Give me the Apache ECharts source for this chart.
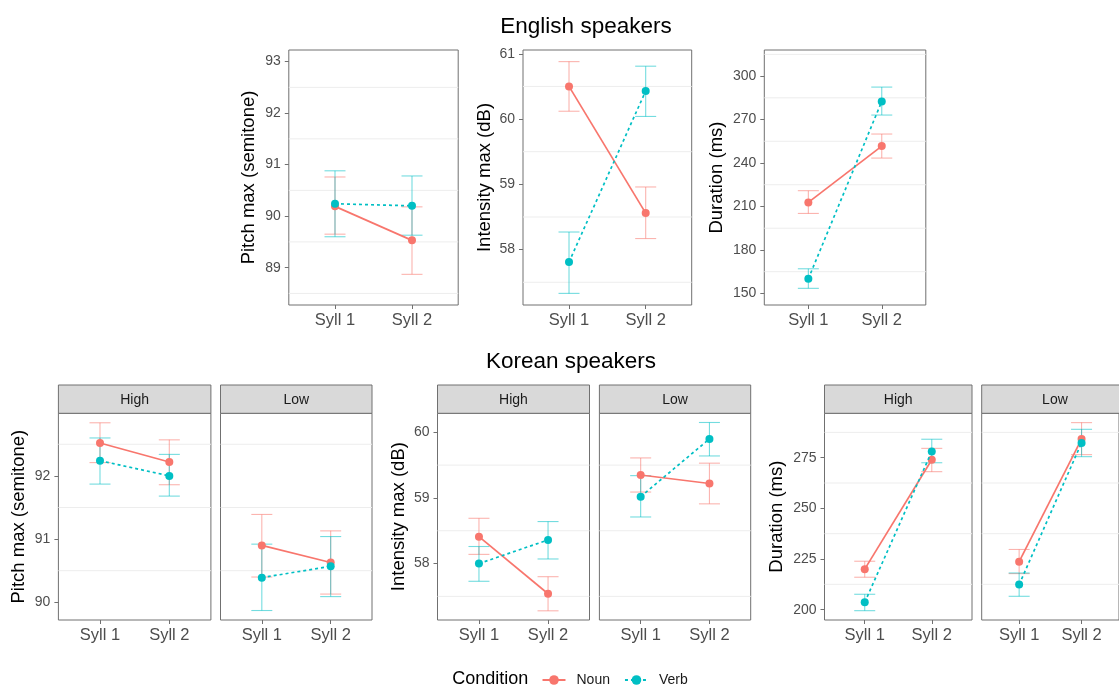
<!DOCTYPE html>
<html><head><meta charset="utf-8">
<script src="https://cdn.jsdelivr.net/npm/echarts@6/dist/echarts.min.js"></script>
<style>html,body{margin:0;padding:0;background:#fff}#c{width:1119px;height:686px}</style>
</head><body><div id="c"></div>
<script>
// ---------------- DATA ----------------
const syllables = ['Syll 1', 'Syll 2'];
const conditions = ['Noun', 'Verb'];

// English speakers: pitch max (semitone)
const engPitchNoun = [90.19, 89.53], engPitchNounLo = [89.65, 88.87], engPitchNounHi = [90.76, 90.18];
const engPitchVerb = [90.24, 90.20], engPitchVerbLo = [89.60, 89.63], engPitchVerbHi = [90.88, 90.78];
const engPitchTicks = [89, 90, 91, 92, 93];
const engPitchMinor = [88.5, 89.5, 90.5, 91.5, 92.5];

// English speakers: intensity max (dB)
const engIntNoun = [60.50, 58.56], engIntNounLo = [60.12, 58.17], engIntNounHi = [60.88, 58.96];
const engIntVerb = [57.81, 60.43], engIntVerbLo = [57.33, 60.04], engIntVerbHi = [58.27, 60.81];
const engIntTicks = [58, 59, 60, 61];
const engIntMinor = [57.5, 58.5, 59.5, 60.5];

// English speakers: duration (ms)
const engDurNoun = [212.8, 251.7], engDurNounLo = [205.2, 243.4], engDurNounHi = [220.9, 260.0];
const engDurVerb = [160.1, 282.5], engDurVerbLo = [153.5, 273.1], engDurVerbHi = [167.0, 292.4];
const engDurTicks = [150, 180, 210, 240, 270, 300];
const engDurMinor = [165, 195, 225, 255, 285, 315];

// Korean speakers: pitch max, High / Low
const korPitchHighNoun = [92.52, 92.22], korPitchHighNounLo = [92.21, 91.86], korPitchHighNounHi = [92.84, 92.57];
const korPitchHighVerb = [92.24, 92.00], korPitchHighVerbLo = [91.87, 91.68], korPitchHighVerbHi = [92.60, 92.34];
const korPitchLowNoun = [90.90, 90.63], korPitchLowNounLo = [90.40, 90.13], korPitchLowNounHi = [91.39, 91.13];
const korPitchLowVerb = [90.39, 90.57], korPitchLowVerbLo = [89.87, 90.09], korPitchLowVerbHi = [90.92, 91.04];
const korPitchTicks = [90, 91, 92];
const korPitchMinor = [90.5, 91.5, 92.5];

// Korean speakers: intensity max, High / Low
const korIntHighNoun = [58.41, 57.54], korIntHighNounLo = [58.14, 57.28], korIntHighNounHi = [58.69, 57.80];
const korIntHighVerb = [58.00, 58.36], korIntHighVerbLo = [57.73, 58.07], korIntHighVerbHi = [58.26, 58.64];
const korIntLowNoun = [59.35, 59.22], korIntLowNounLo = [59.09, 58.91], korIntLowNounHi = [59.61, 59.53];
const korIntLowVerb = [59.02, 59.90], korIntLowVerbLo = [58.71, 59.64], korIntLowVerbHi = [59.34, 60.15];
const korIntTicks = [58, 59, 60];
const korIntMinor = [57.5, 58.5, 59.5];

// Korean speakers: duration, High / Low
const korDurHighNoun = [220.0, 274.0], korDurHighNounLo = [216.0, 268.1], korDurHighNounHi = [223.9, 279.6];
const korDurHighVerb = [203.6, 278.1], korDurHighVerbLo = [199.5, 272.5], korDurHighVerbHi = [207.6, 284.1];
const korDurLowNoun = [223.7, 284.2], korDurLowNounLo = [217.8, 276.5], korDurLowNounHi = [229.7, 292.3];
const korDurLowVerb = [212.4, 282.3], korDurLowVerbLo = [206.6, 275.5], korDurLowVerbHi = [218.1, 289.0];
const korDurTicks = [200, 225, 250, 275];
const korDurMinor = [212.5, 237.5, 262.5, 287.5];

const facetLabels = ['High', 'Low'];
const titles = ['English speakers', 'Korean speakers'];
const yTitles = ['Pitch max (semitone)', 'Intensity max (dB)', 'Duration (ms)'];

// ---------------- LAYOUT / STYLE ----------------
const FONT = 'Liberation Sans, Arial, Helvetica, sans-serif';
const NOUN_COL = '#F8766D', VERB_COL = '#00BFC4';
const NOUN_ERR = 'rgba(248,118,109,0.55)', VERB_ERR = 'rgba(0,191,196,0.55)';
const BORDER = '#707070';
const GRIDLINE = '#EDEDED';
const TOP_Y = 50, TOP_H = 255;
const BOT_Y = 413.3, BOT_H = 206.7;
const STRIP_Y = 385, STRIP_H = 28.3;

const panels = [
  {left: 288.8, top: TOP_Y, width: 169.4, height: TOP_H, ymin: 88.275, ymax: 93.225, ticks: engPitchTicks, minor: engPitchMinor, yTitle: yTitles[0], nameGap: 30,
   n: [engPitchNoun, engPitchNounLo, engPitchNounHi], v: [engPitchVerb, engPitchVerbLo, engPitchVerbHi]},
  {left: 523, top: TOP_Y, width: 168.7, height: TOP_H, ymin: 57.152, ymax: 61.058, ticks: engIntTicks, minor: engIntMinor, yTitle: yTitles[1], nameGap: 29,
   n: [engIntNoun, engIntNounLo, engIntNounHi], v: [engIntVerb, engIntVerbLo, engIntVerbHi]},
  {left: 764.3, top: TOP_Y, width: 161.5, height: TOP_H, ymin: 142, ymax: 318, ticks: engDurTicks, minor: engDurMinor, yTitle: yTitles[2], nameGap: 38,
   n: [engDurNoun, engDurNounLo, engDurNounHi], v: [engDurVerb, engDurVerbLo, engDurVerbHi]},
  {left: 58.4, top: BOT_Y, width: 152.5, height: BOT_H, ymin: 89.72, ymax: 92.99, ticks: korPitchTicks, minor: korPitchMinor, yTitle: yTitles[0], nameGap: 30, strip: facetLabels[0],
   n: [korPitchHighNoun, korPitchHighNounLo, korPitchHighNounHi], v: [korPitchHighVerb, korPitchHighVerbLo, korPitchHighVerbHi]},
  {left: 220.5, top: BOT_Y, width: 151.5, height: BOT_H, ymin: 89.72, ymax: 92.99, ticks: korPitchTicks, minor: korPitchMinor, strip: facetLabels[1],
   n: [korPitchLowNoun, korPitchLowNounLo, korPitchLowNounHi], v: [korPitchLowVerb, korPitchLowVerbLo, korPitchLowVerbHi]},
  {left: 437.5, top: BOT_Y, width: 152, height: BOT_H, ymin: 57.14, ymax: 60.29, ticks: korIntTicks, minor: korIntMinor, yTitle: yTitles[1], nameGap: 29, strip: facetLabels[0],
   n: [korIntHighNoun, korIntHighNounLo, korIntHighNounHi], v: [korIntHighVerb, korIntHighVerbLo, korIntHighVerbHi]},
  {left: 599.4, top: BOT_Y, width: 151.3, height: BOT_H, ymin: 57.14, ymax: 60.29, ticks: korIntTicks, minor: korIntMinor, strip: facetLabels[1],
   n: [korIntLowNoun, korIntLowNounLo, korIntLowNounHi], v: [korIntLowVerb, korIntLowVerbLo, korIntLowVerbHi]},
  {left: 824.5, top: BOT_Y, width: 147.5, height: BOT_H, ymin: 194.9, ymax: 296.9, ticks: korDurTicks, minor: korDurMinor, yTitle: yTitles[2], nameGap: 38.5, strip: facetLabels[0],
   n: [korDurHighNoun, korDurHighNounLo, korDurHighNounHi], v: [korDurHighVerb, korDurHighVerbLo, korDurHighVerbHi]},
  {left: 981.7, top: BOT_Y, width: 146.5, height: BOT_H, ymin: 194.9, ymax: 296.9, ticks: korDurTicks, minor: korDurMinor, strip: facetLabels[1],
   n: [korDurLowNoun, korDurLowNounLo, korDurLowNounHi], v: [korDurLowVerb, korDurLowVerbLo, korDurLowVerbHi]}
];

const CAP_HALF = 10.5;
function errRender(color) {
  return function (params, api) {
    const x = api.value(0), lo = api.value(1), hi = api.value(2);
    const a = api.coord([x, lo]), b = api.coord([x, hi]);
    const st = {stroke: color, lineWidth: 1.1, fill: null};
    return {type: 'group', children: [
      {type: 'line', shape: {x1: a[0], y1: a[1], x2: b[0], y2: b[1]}, style: st},
      {type: 'line', shape: {x1: a[0] - CAP_HALF, y1: a[1], x2: a[0] + CAP_HALF, y2: a[1]}, style: st},
      {type: 'line', shape: {x1: b[0] - CAP_HALF, y1: b[1], x2: b[0] + CAP_HALF, y2: b[1]}, style: st}
    ]};
  };
}
function gridRender(params, api) {
  const cs = params.coordSys;
  const p = api.coord([1, api.value(0)]);
  return {type: 'line', shape: {x1: cs.x, y1: p[1], x2: cs.x + cs.width, y2: p[1]}, style: {stroke: GRIDLINE, lineWidth: 1}};
}

const grids = [], xAxes = [], yAxes = [], series = [], graphics = [];
panels.forEach((p, i) => {
  grids.push({left: p.left, top: p.top, width: p.width, height: p.height, show: true, borderColor: BORDER, borderWidth: 1, backgroundColor: '#fff', containLabel: false});
  xAxes.push({type: 'value', gridIndex: i, min: 0.4, max: 2.6,
    axisLine: {show: false}, splitLine: {show: false},
    axisTick: {show: true, length: 4, customValues: [1, 2], lineStyle: {color: BORDER}},
    axisLabel: {show: true, customValues: [1, 2], margin: 7, fontSize: 16.5, color: '#4D4D4D', fontFamily: FONT,
      formatter: v => syllables[Math.round(v) - 1]}});
  const hasY = !!p.yTitle;
  yAxes.push({type: 'value', gridIndex: i, min: p.ymin, max: p.ymax,
    axisLine: {show: false}, splitLine: {show: false},
    axisTick: {show: hasY, length: 4, customValues: p.ticks, lineStyle: {color: BORDER}},
    axisLabel: {show: hasY, customValues: p.ticks, margin: 8, fontSize: 14, color: '#4D4D4D', fontFamily: FONT},
    name: hasY ? p.yTitle : '', nameLocation: 'middle', nameGap: p.nameGap || 30,
    nameTextStyle: {fontSize: 18.5, color: '#000', fontFamily: FONT}});
  series.push({type: 'custom', xAxisIndex: i, yAxisIndex: i, z: 1, silent: true,
    data: p.minor.map(v => [v]), encode: {y: 0}, renderItem: gridRender});
  series.push({type: 'custom', name: 'Noun err', xAxisIndex: i, yAxisIndex: i, z: 2, silent: true,
    data: p.n[0].map((m, k) => [k + 1, p.n[1][k], p.n[2][k]]), encode: {x: 0, y: [1, 2]}, renderItem: errRender(NOUN_ERR)});
  series.push({type: 'custom', name: 'Verb err', xAxisIndex: i, yAxisIndex: i, z: 2, silent: true,
    data: p.v[0].map((m, k) => [k + 1, p.v[1][k], p.v[2][k]]), encode: {x: 0, y: [1, 2]}, renderItem: errRender(VERB_ERR)});
  series.push({type: 'line', name: conditions[0], xAxisIndex: i, yAxisIndex: i, z: 3,
    data: p.n[0].map((m, k) => [k + 1, m]), symbol: 'circle', symbolSize: 8, showSymbol: true,
    lineStyle: {color: NOUN_COL, width: 1.7}, itemStyle: {color: NOUN_COL}});
  series.push({type: 'line', name: conditions[1], xAxisIndex: i, yAxisIndex: i, z: 4,
    data: p.v[0].map((m, k) => [k + 1, m]), symbol: 'circle', symbolSize: 8, showSymbol: true,
    lineStyle: {color: VERB_COL, width: 1.7, type: [3, 3]}, itemStyle: {color: VERB_COL}});
  if (p.strip) {
    graphics.push({type: 'rect', shape: {x: p.left, y: STRIP_Y, width: p.width, height: STRIP_H},
      style: {fill: '#D9D9D9', stroke: BORDER, lineWidth: 1}, z: 10});
    graphics.push({type: 'text', x: p.left + p.width / 2, y: STRIP_Y + STRIP_H / 2 + 0.5,
      style: {text: p.strip, fontSize: 14, fill: '#1A1A1A', fontFamily: FONT, align: 'center', verticalAlign: 'middle'}, z: 11});
  }
});

graphics.push({type: 'text', x: 586, y: 27, style: {text: titles[0], fontSize: 22.5, fill: '#000', fontFamily: FONT, align: 'center', verticalAlign: 'middle'}});
graphics.push({type: 'text', x: 571, y: 362, style: {text: titles[1], fontSize: 22.5, fill: '#000', fontFamily: FONT, align: 'center', verticalAlign: 'middle'}});
graphics.push({type: 'text', x: 452.3, y: 679, style: {text: 'Condition', fontSize: 18, fill: '#000', fontFamily: FONT, align: 'left', verticalAlign: 'middle'}});

const chart = echarts.init(document.getElementById('c'), null, {renderer: 'canvas'});
chart.setOption({
  animation: false,
  backgroundColor: '#fff',
  textStyle: {fontFamily: FONT},
  grid: grids, xAxis: xAxes, yAxis: yAxes, series: series,
  legend: {data: conditions, left: 541.5, top: 673, padding: 0, itemWidth: 23, itemHeight: 12, itemGap: 14,
    textStyle: {fontSize: 14, color: '#1A1A1A', fontFamily: FONT, padding: [0, 0, 0, 6]}},
  graphic: graphics
});
</script></body></html>
